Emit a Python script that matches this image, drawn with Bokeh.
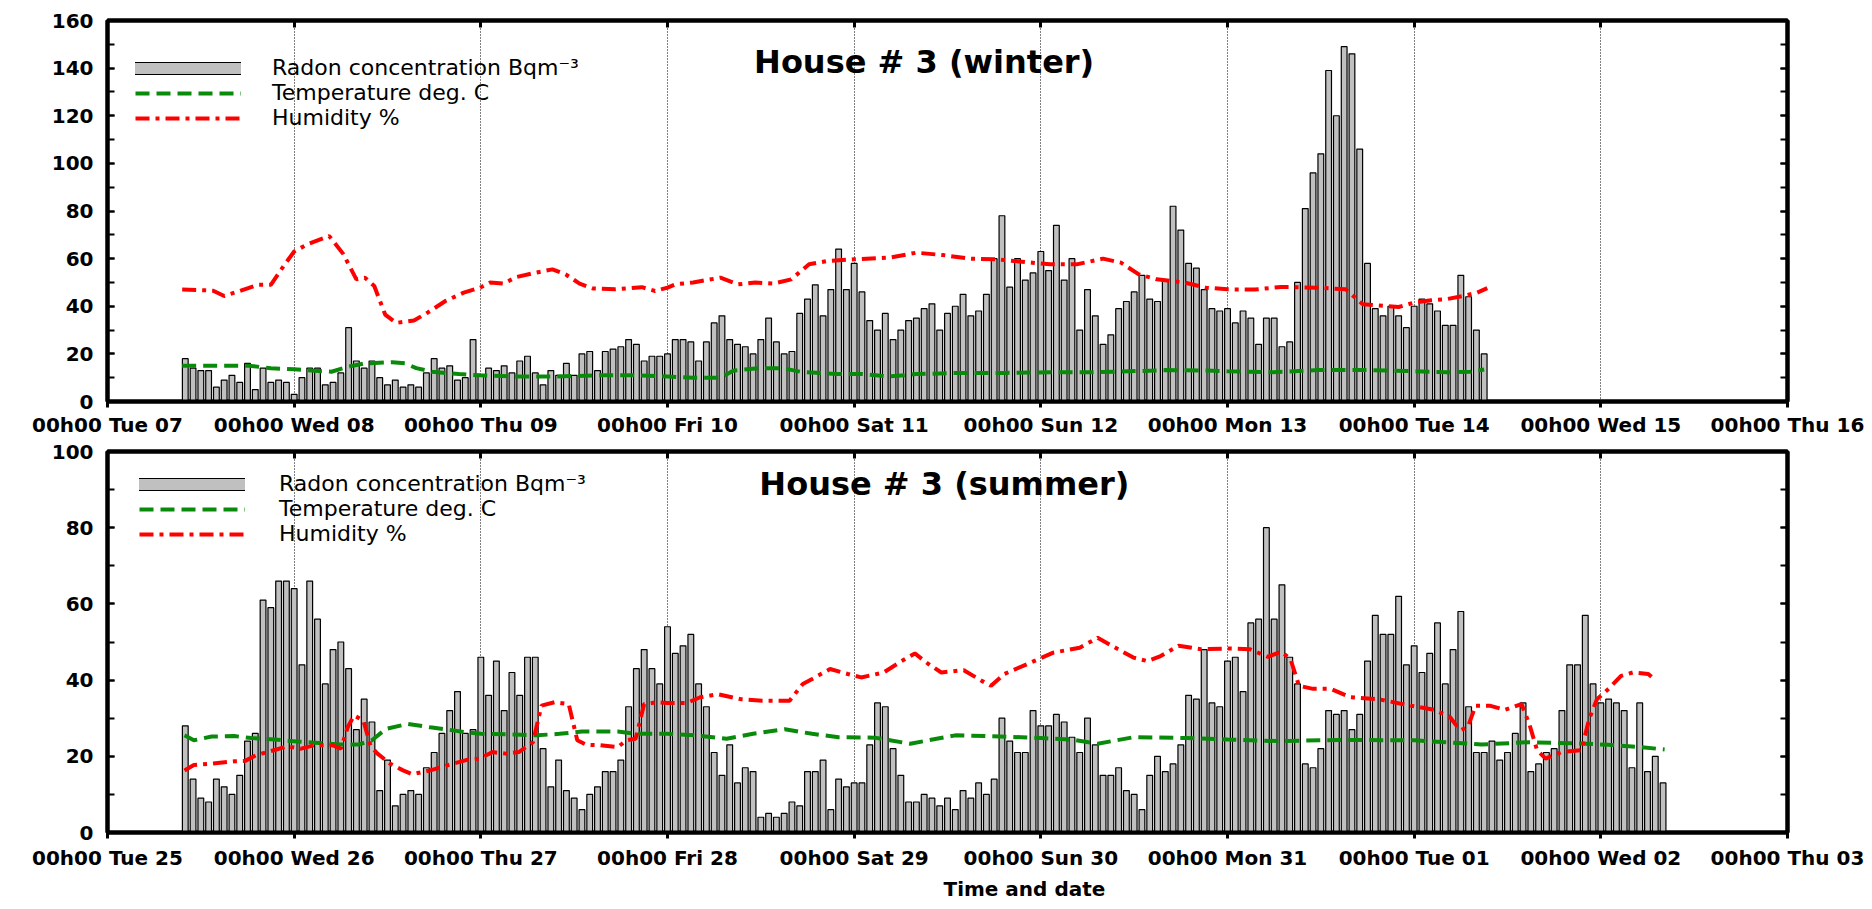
from bokeh.plotting import figure
from bokeh.models import (Range1d, FixedTicker, SingleIntervalTicker, LinearAxis,
                          Label, Title, Legend, LegendItem)
from bokeh.layouts import column
from bokeh.embed import file_html
from bokeh.resources import INLINE

FONT = "DejaVu Sans"
NAN = float("nan")

# ---------------- data ----------------
winter_day_labels = ["00h00 Tue 07", "00h00 Wed 08", "00h00 Thu 09", "00h00 Fri 10",
                     "00h00 Sat 11", "00h00 Sun 12", "00h00 Mon 13", "00h00 Tue 14",
                     "00h00 Wed 15", "00h00 Thu 16"]
summer_day_labels = ["00h00 Tue 25", "00h00 Wed 26", "00h00 Thu 27", "00h00 Fri 28",
                     "00h00 Sat 29", "00h00 Sun 30", "00h00 Mon 31", "00h00 Tue 01",
                     "00h00 Wed 02", "00h00 Thu 03"]

legend_labels = ["Radon concentration Bqm\u207b\u00b3", "Temperature deg. C", "Humidity %"]

# hourly radon, first value at hour 10 after the first midnight
winter_radon_start = 10
winter_radon = [18, 14, 13, 13, 6, 9, 11, 8, 16, 5, 14, 8, 9, 8,
                3, 10, 14, 14, 7, 8, 12, 31, 17, 14, 17, 10, 7, 9, 6, 7, 6, 12, 18, 14, 15, 9, 10, 26,
                11, 14, 13, 15, 12, 17, 19, 12, 7, 13, 11, 16, 11, 20, 21, 13, 21, 22, 23, 26, 24, 17, 19, 19,
                20, 26, 26, 25, 17, 25, 33, 36, 26, 24, 23, 20, 26, 35, 25, 20, 21, 37, 43, 49, 36, 47, 64, 47,
                58, 46, 34, 30, 37, 26, 30, 34, 35, 39, 41, 30, 37, 40, 45, 36, 38, 45, 60, 78, 48, 60, 51, 54,
                63, 55, 74, 51, 60, 30, 47, 36, 24, 28, 39, 42, 46, 53, 43, 42, 51, 82, 72, 58, 56, 47, 39, 38,
                39, 33, 38, 35, 24, 35, 35, 23, 25, 50, 81, 96, 104, 139, 120, 149, 146, 106, 58, 39, 36, 40, 36, 31,
                40, 43, 41, 38, 32, 32, 53, 44, 30, 20]

winter_temp_hours = [9.6, 14.8, 18.2, 21, 24, 26.2, 28.8, 30.8, 33.1, 36.6,
                     38.3, 39.7, 41.7, 45.2, 47.9, 52.1, 57.8, 63.5, 67.6, 72,
                     75.3, 78.8, 80.5, 83.9, 86.8, 89.1, 93.7, 97.1, 100.5, 104,
                     109.7, 115.4, 121.2, 126.9, 132.6, 136, 141.2, 144, 149.8, 155.6,
                     162, 168, 172.2, 175.2, 177]
winter_temp = [15, 15, 15, 14, 13.5, 13, 12.5, 14.5, 16, 16.5,
               16, 14, 12.5, 11.5, 11, 10.5, 10.5, 11, 11, 10.5,
               10, 10, 13, 14, 14, 12.5, 11.5, 11.5, 10.5, 11.5,
               12, 12, 12.3, 12.3, 12.8, 13.2, 13, 12.7, 12.3, 13.2,
               13.2, 12.7, 12.3, 12.5, 13.4]

winter_hum_hours = [9.6, 12.5, 13.6, 15, 17, 19.3, 21, 22.8, 24, 25.7,
                    28.5, 30.3, 32, 33.1, 34.3, 35.7, 37.1, 39.4, 41.2, 43.5,
                    45.8, 47.9, 49.2, 50.9, 52.6, 54.9, 57.2, 58.9, 60.7, 62.4,
                    65.3, 68.7, 70.4, 72, 73, 75.3, 78.8, 81.1, 83.3, 85.6,
                    87.9, 90.2, 92.5, 96, 100.5, 104, 107.4, 110.9, 114.3, 118.9,
                    121.2, 124.6, 128, 130.3, 132.6, 134.9, 138.4, 141.2, 144, 147.5,
                    150.9, 155.6, 159.2, 161.4, 164, 166, 168.1, 170.2, 172.2, 174.3,
                    176.1, 177.4]
winter_hum = [47, 46.7, 46.5, 44.3, 46.4, 49, 49, 57.6, 63, 66,
              69.5, 62, 51.3, 52, 48.5, 36.5, 33, 34, 37.4, 42.3,
              45.7, 47.8, 50, 49.5, 52.3, 54, 55.5, 53.4, 49.5, 47.5,
              47.1, 48, 46.4, 47.8, 49.2, 50, 52, 49.2, 50, 49.5,
              51.3, 57.6, 59, 59.7, 60.4, 62.5, 61.5, 60, 59.7, 58.3,
              57.6, 57.6, 60, 58.3, 53.4, 51.3, 50, 47.8, 47.1, 47,
              48.1, 47.8, 47.1, 40.8, 40.2, 39.7, 41.6, 42.5, 43, 44.3,
              45.7, 47.6]

summer_radon_start = 10
summer_radon = [28, 14, 9, 8, 14, 12, 10, 15, 24, 26, 61, 59, 66, 66,
                64, 44, 66, 56, 39, 48, 50, 43, 27, 35, 29, 11, 19, 7, 10, 11, 10, 17, 21, 26, 32, 37, 26, 27,
                46, 36, 45, 32, 42, 36, 46, 46, 22, 12, 19, 11, 9, 6, 10, 12, 16, 16, 19, 33, 43, 48, 43, 39,
                54, 47, 49, 52, 39, 33, 21, 15, 23, 13, 17, 16, 4, 5, 4, 5, 8, 7, 16, 16, 19, 6, 14, 12,
                13, 13, 23, 34, 33, 22, 15, 8, 8, 10, 9, 7, 9, 6, 11, 9, 13, 10, 14, 30, 24, 21, 21, 32,
                28, 28, 31, 29, 25, 21, 30, 23, 15, 15, 17, 11, 10, 6, 15, 20, 16, 18, 23, 36, 35, 48, 34, 33,
                45, 46, 37, 55, 56, 80, 56, 65, 46, 39, 18, 17, 22, 32, 31, 32, 27, 31, 45, 57, 52, 52, 62, 44,
                49, 42, 47, 55, 39, 48, 58, 33, 21, 21, 24, 19, 21, 26, 34, 16, 18, 21, 22, 32, 44, 44, 57, 39,
                34, 35, 34, 32, 17, 34, 16, 20, 13]

summer_temp_hours = [9.9, 11.1, 13.4, 16.3, 18.5, 21.4, 24.3, 27.2, 30, 32.3,
                     34, 35.8, 38.6, 41.5, 43.8, 46, 48, 52.4, 55.2, 58.1,
                     61, 65.6, 67.9, 72, 75.6, 79.6, 83, 87.1, 90.6, 94,
                     98.6, 103.2, 109, 114.7, 120, 123.9, 127.3, 131.9, 138.8, 144,
                     150.3, 158.4, 168, 172.6, 176.7, 182.8, 190, 193, 196, 200.2]
summer_temp = [25.5, 24.2, 25.2, 25.3, 24.8, 24.4, 23.9, 23.5, 23.1, 23.1,
               24.2, 27.2, 28.5, 27.6, 27, 26.3, 25.9, 25.7, 25.5, 25.9,
               26.5, 26.5, 25.9, 25.9, 25.5, 24.6, 25.9, 27.1, 25.9, 25,
               24.9, 23.3, 25.5, 25.2, 24.8, 24.4, 23.3, 25, 24.8, 24.4,
               24, 24.3, 24.2, 23.6, 23.1, 23.7, 23.3, 23, 22.6, 21.8]

summer_hum_hours = [9.9, 11.1, 13.4, 16.3, 17.7, 19.1, 21.4, 23.1, 24.9, 26.6,
                    28.9, 30, 30.9, 31.7, 32.9, 33.8, 34.6, 36.3, 38, 39.2,
                    41.5, 43.8, 46.1, 47.8, 49.5, 51.2, 52.9, 54.7, 55.8, 57.5,
                    59.3, 60.4, 61.6, 63.3, 65.6, 66.7, 67.9, 69, 70.7, 72,
                    74.5, 76.2, 78.5, 81.4, 84.2, 87.7, 89.4, 90.6, 92.9, 95.2,
                    96.9, 99.8, 102.1, 103.8, 105.5, 107.2, 110.1, 112.4, 113.6, 115.3,
                    118.7, 121.6, 125, 127.3, 129.6, 131.9, 133.7, 135.4, 137.7, 140.6,
                    144, 146.9, 149.2, 150.9, 152.1, 153.2, 155, 157.3, 159.8, 163.4,
                    167.5, 170.6, 172.6, 173.9, 174.9, 175.9, 177.7, 179.7, 181.8, 182.8,
                    183.8, 184.9, 186.9, 189.5, 190.5, 191.5, 193, 194.6, 196.1, 198.1,
                    199.1]
summer_hum = [16.3, 17.7, 18.1, 18.7, 18.8, 20.3, 21.6, 22.6, 22, 22.9,
              22.9, 22, 27.7, 30.7, 29.4, 22.9, 20.9, 18.1, 16.3, 15.3,
              16.3, 17.7, 19, 19.4, 21.1, 20.7, 21.1, 23.7, 33.3, 34.2,
              33.7, 24.2, 23, 22.9, 22.4, 24.2, 24.6, 33.7, 34.2, 34,
              34, 35.5, 36.3, 35, 34.6, 34.6, 39, 40.3, 42.9, 41.6,
              40.7, 42, 45, 47, 44.3, 42, 42.6, 39.8, 38.5, 41.6,
              44.6, 47.2, 48.5, 51.1, 48.5, 45.9, 45, 46.3, 49, 48.1,
              48.3, 48.1, 46.1, 47.5, 45.5, 38.5, 37.7, 37.7, 35.5, 35,
              33.3, 32.2, 30.3, 26.8, 27.7, 33.3, 33.3, 32.2, 33.7, 28.5,
              21.6, 19.4, 21.1, 21.6, 29.8, 35, 37.7, 41.1, 42, 41.6,
              39.8]


def make_panel(day_labels, radon_start, radon, t_hours, t_vals, h_hours, h_vals,
               ymax, title, title_xy, legend_xy, legend_standoff, border_top, border_bottom,
               xlabel_standoff):
    n_hours = 24 * (len(day_labels) - 1)
    ticks = [24 * i for i in range(len(day_labels))]
    p = figure(x_range=Range1d(0, n_hours), y_range=Range1d(0, ymax),
               frame_width=1680, frame_height=381,
               min_border_left=107, min_border_right=80,
               min_border_top=border_top, min_border_bottom=border_bottom,
               output_backend="svg", toolbar_location=None)
    p.outline_line_color = "black"
    p.outline_line_width = 4
    p.background_fill_color = "white"
    p.border_fill_color = "white"

    # grids
    p.ygrid.visible = False
    p.xgrid.ticker = FixedTicker(ticks=ticks[1:-1])
    p.xgrid.grid_line_color = "black"
    p.xgrid.grid_line_width = 1
    p.xgrid.grid_line_dash = "1 2"

    # bottom axis
    xa = p.xaxis[0]
    xa.ticker = FixedTicker(ticks=ticks)
    xa.major_label_overrides = {t: lab for t, lab in zip(ticks, day_labels)}
    xa.axis_line_width = 4
    xa.major_tick_in = 0
    xa.major_tick_out = 6
    xa.major_tick_line_width = 3
    xa.minor_tick_in = 0
    xa.minor_tick_out = 0
    xa.major_label_standoff = xlabel_standoff
    xa.major_label_text_font = FONT
    xa.major_label_text_font_style = "bold"
    xa.major_label_text_font_size = "20px"
    xa.major_label_text_color = "black"

    # left axis
    ya = p.yaxis[0]
    ya.ticker = SingleIntervalTicker(interval=20, num_minor_ticks=2)
    ya.axis_line_width = 4
    ya.major_tick_in = 7
    ya.major_tick_out = 0
    ya.minor_tick_in = 7
    ya.minor_tick_out = 0
    ya.major_tick_line_width = 2
    ya.minor_tick_line_width = 2
    ya.major_label_standoff = 14
    ya.major_label_text_font = FONT
    ya.major_label_text_font_style = "bold"
    ya.major_label_text_font_size = "20px"
    ya.major_label_text_color = "black"

    # right axis (ticks only)
    ra = LinearAxis(ticker=SingleIntervalTicker(interval=20, num_minor_ticks=2),
                    axis_line_width=4, major_tick_in=7, major_tick_out=0,
                    minor_tick_in=7, minor_tick_out=0,
                    major_tick_line_width=2, minor_tick_line_width=2,
                    major_label_text_color=None, major_label_text_font_size="0px",
                    major_label_standoff=0)
    p.add_layout(ra, "right")
    # top axis (ticks only)
    ta = LinearAxis(ticker=FixedTicker(ticks=ticks), axis_line_width=4,
                    major_tick_in=7, major_tick_out=0, major_tick_line_width=3,
                    minor_tick_in=0, minor_tick_out=0,
                    major_label_text_color=None, major_label_text_font_size="0px",
                    major_label_standoff=0)
    p.add_layout(ta, "above")

    hours = list(range(radon_start, radon_start + len(radon)))
    p.vbar(x=hours, top=radon, bottom=0, width=0.74,
           fill_color="#c0c0c0", line_color="black", line_width=1.2)
    tr = p.line(t_hours, t_vals, line_color="#0a8a0a", line_width=4, line_dash="14 7")
    hr = p.line(h_hours, h_vals, line_color="#ff0000", line_width=4, line_dash="14 6 4 6")

    # legend swatch for the bars (black edge + grey body), nothing drawn in the plot
    sw_edge = p.line(x=[NAN], y=[NAN], line_color="black", line_width=13, line_cap="square")
    sw_body = p.line(x=[NAN], y=[NAN], line_color="#c0c0c0", line_width=11, line_cap="square")

    legend = Legend(items=[LegendItem(label=legend_labels[0], renderers=[sw_edge, sw_body]),
                           LegendItem(label=legend_labels[1], renderers=[tr]),
                           LegendItem(label=legend_labels[2], renderers=[hr])],
                    location=legend_xy, glyph_width=106, glyph_height=24,
                    label_height=24, label_standoff=legend_standoff, spacing=-3,
                    padding=0, margin=0, border_line_color=None,
                    background_fill_color=None, background_fill_alpha=0,
                    label_text_font=FONT, label_text_font_size="22px",
                    label_text_color="black")
    p.add_layout(legend)

    p.add_layout(Label(x=title_xy[0], y=title_xy[1], text=title,
                       text_font=FONT, text_font_style="bold", text_font_size="32px",
                       text_align="center", text_baseline="middle", text_color="black"))
    return p


p1 = make_panel(winter_day_labels, winter_radon_start, winter_radon,
                winter_temp_hours, winter_temp, winter_hum_hours, winter_hum,
                160, "House # 3 (winter)", (105, 142.5), (28, 271), 31, 20, 35, 5)
p2 = make_panel(summer_day_labels, summer_radon_start, summer_radon,
                summer_temp_hours, summer_temp, summer_hum_hours, summer_hum,
                100, "House # 3 (summer)", (107.6, 91.6), (32, 286), 34, 12, 66, 7)

p2.add_layout(Title(text="Time and date", align="left", offset=836,
                    text_font=FONT, text_font_style="bold", text_font_size="20px",
                    text_color="black", standoff=4), "below")

layout = column(p1, p2, spacing=0)
open("out.html", "w").write(file_html(layout, INLINE, title="House 3 radon"))
